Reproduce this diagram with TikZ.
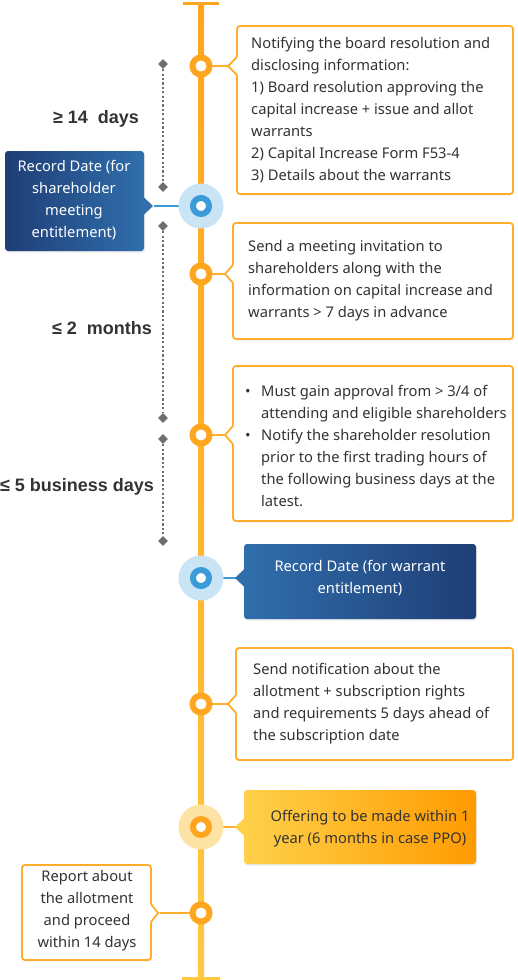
\documentclass[tikz,border=0pt]{standalone}
\usepackage{fontspec}
\setmainfont{Noto Sans}
\newfontfamily\lblfont{Liberation Sans}
\usetikzlibrary{shapes.geometric,shadows}
\definecolor{org}{HTML}{FFA620}
\definecolor{orgline}{HTML}{FFAD2A}
\definecolor{yel}{HTML}{FFC83E}
\definecolor{txt}{HTML}{333333}
\definecolor{bluedark}{HTML}{1F3E76}
\definecolor{bluelight}{HTML}{306EAC}
\definecolor{ringblue}{HTML}{3B9BD8}
\definecolor{haloblue}{HTML}{C8E4F5}
\definecolor{haloyel}{HTML}{FDE3A4}
\definecolor{yboxl}{HTML}{FFD04A}
\definecolor{yboxr}{HTML}{FF9B00}
\definecolor{dotgray}{HTML}{6E6E6E}
\newcommand{\ptrL}[3]{% box left edge x, y, fill colour
  \fill[#3] (#1+1.5,#2-10) -- (#1-9,#2) -- (#1+1.5,#2+10) -- cycle;}
\newcommand{\ptrR}[3]{% box right edge x, y, fill colour
  \fill[#3] (#1-1.5,#2-10) -- (#1+9,#2) -- (#1-1.5,#2+10) -- cycle;}
\begin{document}
\begin{tikzpicture}[x=1pt,y=-1pt,
  obox/.style={draw=orgline, line width=1.8pt, fill=white, rounded corners=3pt,
    drop shadow={opacity=0.12,shadow xshift=1pt,shadow yshift=-1.5pt}},
  gbox/.style={rounded corners=3pt, draw=none,
    drop shadow={opacity=0.15,shadow xshift=1pt,shadow yshift=-1.5pt}},
  oedge/.style={draw=orgline, line width=1.8pt, line join=miter},
  oconn/.style={draw=orgline, line width=2pt},
  bconn/.style={draw=ringblue, line width=2pt},
  ring/.style={circle, draw=org, line width=6pt, fill=white, minimum size=17pt, inner sep=0pt},
  bring/.style={circle, draw=ringblue, line width=6pt, fill=white, minimum size=16pt, inner sep=0pt},
  yring/.style={circle, draw=org, line width=6pt, fill=white, minimum size=16pt, inner sep=0pt},
  halo/.style={circle, minimum size=45pt, inner sep=0pt},
  dmd/.style={diamond, fill=dotgray, minimum size=10pt, inner sep=0pt},
  dots/.style={draw=dotgray, line width=1.6pt, dash pattern=on 2.2pt off 2.2pt},
  btext/.style={text=txt, font=\fontsize{14.7}{22}\selectfont, inner sep=0pt},
  lbl/.style={text=txt, font=\lblfont\bfseries\fontsize{18}{20}\selectfont, inner sep=0pt}
]
\useasboundingbox (0,0) rectangle (518,980);
\fill[white] (0,0) rectangle (518,980);

% timeline
\coordinate (top) at (201,3);
\coordinate (bot) at (201,978);
\shade[top color=org, bottom color=yel, middle color=org!60!yel] (198,3) rectangle (204,978);
\draw[org, line width=3pt] (183,3) -- (219,3);
\draw[yel, line width=3pt] (182,978) -- (220,978);

% dotted interval markers
\node[dmd] (d1) at (163,64) {};
\node[dmd] (d2) at (163,187) {};
\node[dmd] (d3) at (163,226) {};
\node[dmd] (d4) at (163,418) {};
\node[dmd] (d5) at (163,439) {};
\node[dmd] (d6) at (163,541) {};
\draw[dots] (d1) -- (d2);
\draw[dots] (d3) -- (d4);
\draw[dots] (d5) -- (d6);
\node[lbl] (l1) at (96,119) {≥ 14\hspace{0.55em}days};
\node[lbl] (l2) at (102,328) {≤ 2\hspace{0.55em}months};
\node[lbl] (l3) at (77,487) {≤ 5 business days};

% pointer tip coordinates
\coordinate (p1) at (228,66);
\coordinate (pb1) at (154,206);
\coordinate (p2) at (225,274);
\coordinate (p3) at (225,435);
\coordinate (pb2) at (236,578);
\coordinate (p4) at (228,704);
\coordinate (py) at (236,827);
\coordinate (p5) at (158,913);

% ring centres
\path (201,66) coordinate (c1) (201,206) coordinate (cb1) (201,274) coordinate (c2)
      (201,435) coordinate (c3) (201,578) coordinate (cb2) (201,704) coordinate (c4)
      (201,827) coordinate (cy) (201,913) coordinate (c5);

% connectors
\draw[oconn] (c1) -- (p1);
\draw[bconn] (cb1) -- (pb1);
\draw[oconn] (c2) -- (p2);
\draw[oconn] (c3) -- (p3);
\draw[bconn] (cb2) -- (pb2);
\draw[oconn] (c4) -- (p4);
\draw[oconn] (cy) -- (py);
\draw[oconn] (c5) -- (p5);

% boxes
\node[obox, minimum width=276pt, minimum height=168pt] (b1) at (375,110) {};
\ptrL{237}{66}{white}
\draw[oedge] (237,57) -- (p1) -- (237,75);
\node[btext, anchor=west, align=left] (t1) at (251,110) {Notifying the board resolution and\\disclosing information:\\1) Board resolution approving the\\capital increase + issue and allot\\warrants\\2) Capital Increase Form F53-4\\3) Details about the warrants};

\node[gbox, left color=bluedark, right color=bluelight, minimum width=139pt, minimum height=100pt] (bb1) at (74.5,201) {};
\ptrR{144}{206}{bluelight}
\node[btext, text=white, align=center] (tb1) at (74,200) {Record Date (for\\shareholder\\meeting\\entitlement)};

\node[obox, minimum width=280pt, minimum height=116pt] (b2) at (373,281) {};
\ptrL{233}{274}{white}
\draw[oedge] (233,265) -- (p2) -- (233,283);
\node[btext, anchor=west, align=left] (t2) at (248,281) {Send a meeting invitation to\\shareholders along with the\\information on capital increase and\\warrants > 7 days in advance};

\node[obox, minimum width=280pt, minimum height=155pt] (b3) at (373,443.5) {};
\ptrL{233}{435}{white}
\draw[oedge] (233,426) -- (p3) -- (233,444);
\node[btext, anchor=west, align=left] (t3) at (245,446) {\makebox[16pt][l]{•}Must gain approval from > 3/4 of\\\hspace*{16pt}attending and eligible shareholders\\\makebox[16pt][l]{•}Notify the shareholder resolution\\\hspace*{16pt}prior to the first trading hours of\\\hspace*{16pt}the following business days at the\\\hspace*{16pt}latest.};

\node[gbox, left color=bluelight, right color=bluedark, minimum width=232pt, minimum height=75pt] (bb2) at (360,581.5) {};
\ptrL{244}{578}{bluelight}
\node[btext, text=white, align=center] (tb2) at (360,578) {Record Date (for warrant\\entitlement)};

\node[obox, minimum width=277pt, minimum height=112pt] (b4) at (374.5,704) {};
\ptrL{236}{704}{white}
\draw[oedge] (236,695) -- (p4) -- (236,713);
\node[btext, anchor=west, align=left] (t4) at (253,704) {Send notification about the\\allotment + subscription rights\\and requirements 5 days ahead of\\the subscription date};

\node[gbox, left color=yboxl, right color=yboxr, minimum width=232pt, minimum height=74pt] (by) at (360,827) {};
\ptrL{244}{827}{yboxl}
\node[btext, align=center] (ty) at (370,829) {Offering to be made within 1\\year (6 months in case PPO)};

\node[obox, minimum width=129pt, minimum height=95pt] (b5) at (86.5,912.5) {};
\ptrR{151}{913}{white}
\draw[oedge] (151,904) -- (p5) -- (151,922);
\node[btext, align=center] (t5) at (87,911) {Report about\\the allotment\\and proceed\\within 14 days};

% rings
\node[ring, drop shadow={opacity=0.18,shadow xshift=0.5pt,shadow yshift=-2pt}] (r1) at (c1) {};
\node[halo, fill=haloblue] (hb1) at (cb1) {};
\node[bring] (rb1) at (cb1) {};
\node[ring, drop shadow={opacity=0.18,shadow xshift=0.5pt,shadow yshift=-2pt}] (r2) at (c2) {};
\node[ring, drop shadow={opacity=0.18,shadow xshift=0.5pt,shadow yshift=-2pt}] (r3) at (c3) {};
\node[halo, fill=haloblue] (hb2) at (cb2) {};
\node[bring] (rb2) at (cb2) {};
\node[ring, drop shadow={opacity=0.18,shadow xshift=0.5pt,shadow yshift=-2pt}] (r4) at (c4) {};
\node[halo, fill=haloyel] (hy) at (cy) {};
\node[yring] (ry) at (cy) {};
\node[ring, drop shadow={opacity=0.18,shadow xshift=0.5pt,shadow yshift=-2pt}] (r5) at (c5) {};
\end{tikzpicture}
\end{document}
